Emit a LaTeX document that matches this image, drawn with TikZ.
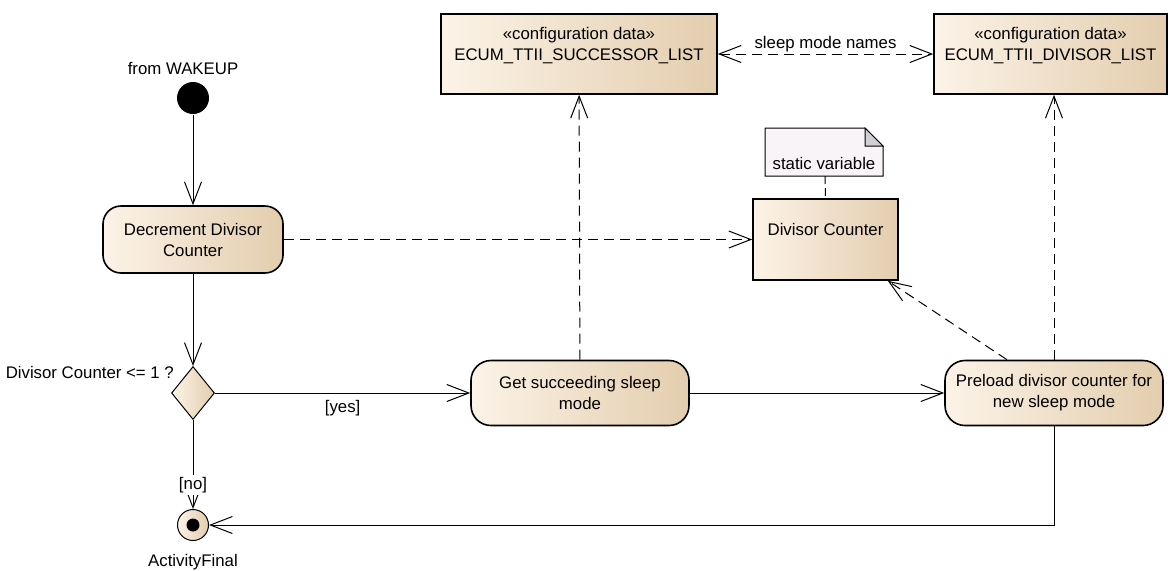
\documentclass[tikz,border=0pt]{standalone}
\usepackage{fontspec}
\setmainfont{Liberation Sans}
\usetikzlibrary{shapes.geometric, arrows.meta}

\definecolor{actlight}{HTML}{FCF3E7}
\definecolor{actdark}{HTML}{E3CDAE}
\definecolor{notefill}{HTML}{F8F4F8}
\definecolor{notefold}{HTML}{D2CED6}

\begin{document}
\begin{tikzpicture}[x=0.5pt, y=-0.5pt, line width=0.5pt,
  font=\fontsize{8.4}{10.5}\selectfont,
  >={Straight Barb[length=11pt, width=8.5pt]},
  tanfill/.style={left color=actlight, middle color=actlight!90!actdark, right color=actdark},
  action/.style={draw, line width=0.8pt, tanfill, rounded corners=9pt, align=center, inner sep=0pt},
  datastore/.style={draw, line width=0.8pt, tanfill, rectangle, align=center, inner sep=0pt},
  dep/.style={dash pattern=on 5pt off 3pt, ->},
  flow/.style={->}]
\useasboundingbox (0,0) rectangle (1168,570);

\node[circle, fill=black, minimum size=16pt, inner sep=0pt, label={[xshift=-5pt]above:from WAKEUP}] (start) at (193,98) {};
\node[action, minimum width=90pt, minimum height=33.5pt] (decrement) at (193,239.5) {Decrement Divisor\\Counter};
\node[diamond, draw, tanfill, minimum width=21.5pt, minimum height=26.5pt, inner sep=0pt] (check) at (193,393) {};
\node[anchor=east] (checklabel) at (181,372) {Divisor Counter <= 1 ?};
\node[action, minimum width=109pt, minimum height=32.5pt, rounded corners=10pt] (getnext) at (580,393) {Get succeeding sleep\\mode};
\node[action, minimum width=109pt, minimum height=32.5pt, rounded corners=10pt] (preload) at (1054,393) {Preload divisor counter for\\new sleep mode};
\node[circle, draw, tanfill, minimum size=15.5pt, inner sep=0pt, label={[label distance=3pt]below:ActivityFinal}] (final) at (193,525) {};
\fill (final) circle (3.25pt);

\node[datastore, minimum width=138pt, minimum height=40pt] (succlist) at (579,54) {«configuration data»\\ECUM\_TTII\_SUCCESSOR\_LIST\\~};
\node[datastore, minimum width=116.5pt, minimum height=40pt] (divlist) at (1050.5,54) {«configuration data»\\ECUM\_TTII\_DIVISOR\_LIST\\~};
\node[datastore, minimum width=72.5pt, minimum height=40.5pt] (divcounter) at (825.5,239.5) {Divisor Counter\\~};

% note
\draw[fill=notefill] (765,128) -- (865,128) -- (883,146) -- (883,176) -- (765,176) -- cycle;
\draw[fill=notefold] (865,128) -- (865,146) -- (883,146) -- cycle;
\node (note) at (824,163) {static variable};
\coordinate (notebottom) at (825,176);
\draw[dash pattern=on 4pt off 2pt] (notebottom) -- (divcounter.north);

\draw[flow] (start) -- (decrement);
\draw[flow] (decrement) -- (check);
\draw[flow] (check) -- node[below] (yes) {[yes]} (getnext);
\draw[flow] (getnext) -- (preload);
\draw[flow] (check) -- node[pos=0.73, fill=white, inner sep=1pt] (no) {[no]} (final);
\draw[flow] (preload) |- (final);

\draw[dep] (decrement) -- (divcounter);
\draw[dep] (getnext) -- (succlist);
\draw[dep] (preload.north) -- (preload.north |- divlist.south);
\draw[dep] ([xshift=-23.5pt]preload.north) -- ([xshift=-5.5pt]divcounter.south east);
\draw[dep, <->] (succlist) -- node[above, inner sep=1pt] (names) {sleep mode names} (divlist);
\end{tikzpicture}
\end{document}
